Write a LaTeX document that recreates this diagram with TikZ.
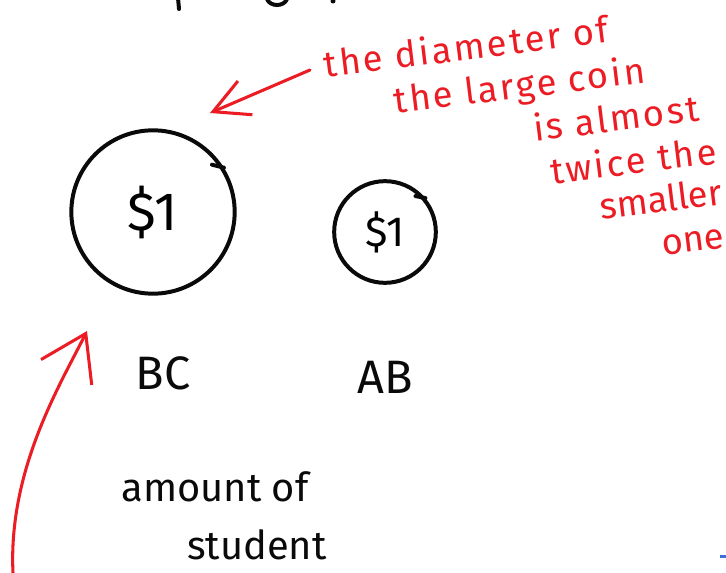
\documentclass[tikz,border=0pt]{standalone}
\usepackage{fontspec}
\setmainfont{Fira Sans}
\usepackage{tikz}
\usetikzlibrary{arrows.meta,calc,positioning}
\definecolor{Pen}{HTML}{0A0A0A}
\definecolor{RedPen}{HTML}{EC1C24}
\definecolor{Cursor}{HTML}{3A6FD8}

\tikzset{
  coin/.style={circle,draw=Pen,line width=3.4pt,inner sep=0pt},
  tag/.style={Pen,font=\fontsize{40}{44}\selectfont},
  scrawl/.style={Pen,font=\fontsize{34}{38}\selectfont},
  remark/.style={RedPen,rotate=7,align=left,inner sep=0pt,
    font=\fontsize{31}{38}\selectfont\addfontfeature{LetterSpace=7}},
}

\begin{document}
\begin{tikzpicture}[x=0.3mm,y=-0.3mm,>={Straight Barb[length=10.5mm,width=11mm]},line cap=round,line join=round]
  \useasboundingbox (0,0) rectangle (726,573);
  \node[coin,minimum size=49mm,font=\fontsize{46}{50}\selectfont] (bigcoin) at (153,212) {\$1};
  \node[coin,minimum size=30.5mm,font=\fontsize{36}{40}\selectfont] (smallcoin) at (385,232) {\$1};
  \draw[Pen,line width=3.4pt] ($(bigcoin.32)+(-12,-3)$) -- (bigcoin.32);
  \draw[Pen,line width=3.4pt] ($(smallcoin.40)+(-10,-2)$) -- (smallcoin.40);
  \node[tag] (bc) at (163,373) {BC};
  \node[tag] (ab) at (385,377) {AB};
  \node[scrawl] (amount) at (215,487) {amount of};
  \node[scrawl] (student) at (257,545) {student};
  \node[remark,anchor=north west] (note) at (322,49) {the diameter of\\
    \hspace*{19.5mm}the large coin\\
    \hspace*{60mm}is almost\\
    \hspace*{63.5mm}twice the\\[-3pt]
    \hspace*{77mm}{\addfontfeature{LetterSpace=0}smaller}\\[-1pt]
    \hspace*{94mm}{\addfontfeature{LetterSpace=0}one}};
  \coordinate (bigtip) at (210,113);
  \coordinate (tail) at (13,573);
  \coordinate (bcup) at (87,331);
  \draw[RedPen,line width=2.6pt,->] ($(note.north west)+(-12,21)$) -- (bigtip);
  \draw[RedPen,line width=2.6pt,-{Straight Barb[length=13mm,width=17mm]}] (tail) .. controls (8,470) and (60,385) .. (bcup);
  \draw[Pen,line width=3.4pt] (178,-2) -- (179,9);
  \draw[Pen,line width=3.4pt] (267,-1) .. controls (270,7) and (284,7) .. (287,-1);
  \fill[Pen] (333,1) circle (2.5);
  \draw[Cursor,line width=2pt,line cap=butt] (720,556.5) -- (726,556.5);
\end{tikzpicture}
\end{document}
